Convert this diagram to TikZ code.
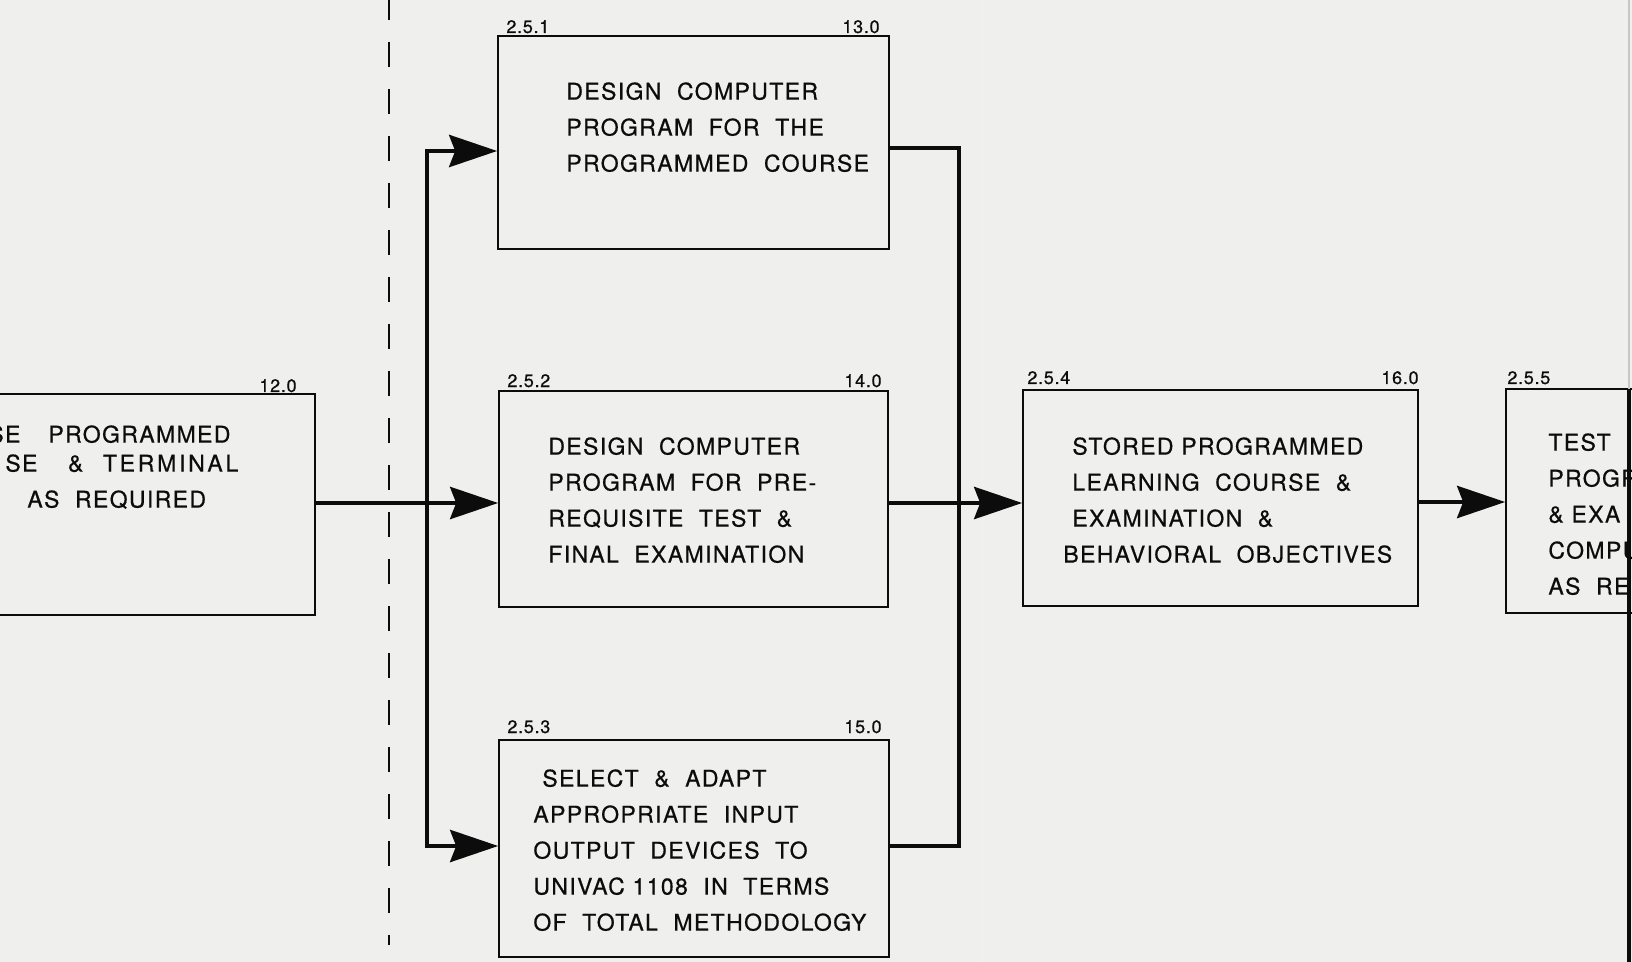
\documentclass[tikz,border=0pt]{standalone}
\usepackage{fontspec}
\setmainfont{TeX Gyre Heros}[LetterSpace=6, FakeBold=0.6]
\newfontfamily\lblfont{TeX Gyre Heros}[LetterSpace=4, FakeBold=0.6]
\newfontfamily\widefont{TeX Gyre Heros}[LetterSpace=12, FakeBold=0.6]
\usetikzlibrary{arrows.meta}
\definecolor{paper}{RGB}{239,239,238}
\definecolor{ink}{RGB}{12,12,12}
\tikzset{
  box/.style={draw=ink, line width=0.8pt, rectangle, inner sep=0pt},
  conn/.style={draw=ink, line width=2.4pt},
  arr/.style={conn, -{Stealth[length=24pt, width=16pt, inset=3pt]}},
  txt/.style={inner sep=0pt, anchor=north west, align=left, text=ink, font=\fontsize{11.5}{18}\selectfont},
  lbl/.style={inner sep=0pt, text=ink, font=\lblfont\fontsize{9}{10}\selectfont},
}
\begin{document}
\begin{tikzpicture}[x=0.5pt, y=-0.5pt]
\useasboundingbox (0,0) rectangle (1632,962);
\clip (0,0) rectangle (1632,962);
\fill[paper] (0,0) rectangle (1632,962);
% paper crease
\draw[black!6, line width=2pt] (983,0) -- (983,962);

% dashed separator
\draw[ink, line width=1pt, dash pattern=on 12.5pt off 11pt] (389,-5) -- (389,945);

% boxes
\node[box, minimum width=207.5pt, minimum height=110.5pt] (b0) at (107.5,504.5) {};
\node[box, minimum width=195.5pt, minimum height=106.5pt] (b1) at (693.5,142.5) {};
\node[box, minimum width=194.5pt, minimum height=108pt] (b2) at (693.5,499) {};
\node[box, minimum width=195pt, minimum height=108.5pt] (b3) at (694,848.5) {};
\node[box, minimum width=197.5pt, minimum height=108pt] (b4) at (1220.5,498) {};
\node[box, minimum width=147pt, minimum height=112pt] (b5) at (1653,501) {};

% box texts
\node[txt] (t0) at (-12,425) {SE\hspace{14pt}PROGRAMMED\\[-3.5pt]\hspace{8.5pt}SE~ \hspace{7.5pt}\&\hspace{2pt}~ {\widefont TERMINAL}\\\hspace{19.5pt}AS~ REQUIRED};
\node[txt] (t1) at (566,82) {DESIGN~ COMPUTER\\PROGRAM~ FOR~ THE\\PROGRAMMED~ COURSE};
\node[txt] (t2) at (548,437) {DESIGN~ COMPUTER\\PROGRAM~ FOR~ PRE-\\REQUISITE~ TEST~ \&\\FINAL~ EXAMINATION};
\node[txt] (t3) at (533,769) {\hspace{4.5pt}SELECT~ \&~ ADAPT\\APPROPRIATE~ INPUT\\OUTPUT~ DEVICES~ TO\\UNIVAC 1108~ IN~ TERMS\\OF~ TOTAL~ METHODOLOGY};
\node[txt] (t4) at (1063,437) {\hspace{4.5pt}STORED PROGRAMMED\\\hspace{4.5pt}LEARNING~ COURSE~ \&\\\hspace{4.5pt}EXAMINATION~ \&\\BEHAVIORAL~ OBJECTIVES};
\node[txt] (t5) at (1548,433) {TEST\\PROGR\\\& EXA\\COMPU\\AS~ RE};

% reference numbers
\node[lbl, anchor=base east] (n0) at (297,392) {12.0};
\node[lbl, anchor=base west] (l1) at (506,33) {2.5.1};
\node[lbl, anchor=base east] (n1) at (880,33) {13.0};
\node[lbl, anchor=base west] (l2) at (507,387) {2.5.2};
\node[lbl, anchor=base east] (n2) at (882,387) {14.0};
\node[lbl, anchor=base west] (l3) at (507,733) {2.5.3};
\node[lbl, anchor=base east] (n3) at (882,733) {15.0};
\node[lbl, anchor=base west] (l4) at (1027,384) {2.5.4};
\node[lbl, anchor=base east] (n4) at (1419,384) {16.0};
\node[lbl, anchor=base west] (l5) at (1507,384) {2.5.5};

% distribution bus
\coordinate (bt) at (427,151);
\coordinate (bm) at (427,503);
\coordinate (bb) at (427,846);
\draw[conn] (b0.east |- bm) -- (bm);
\draw[conn, line cap=rect] (bt) -- (bb);
\draw[arr] (bt) -- (bt -| b1.west);
\draw[arr] (bm) -- (bm -| b2.west);
\draw[arr] (bb) -- (bb -| b3.west);

% collector bus
\coordinate (ct) at (959,148);
\coordinate (cb) at (959,846);
\draw[conn, line join=miter] (ct -| b1.east) -- (ct) -- (cb) -- (cb -| b3.east);
\draw[arr] (bm -| b2.east) -- (bm -| b4.west);

% to 2.5.5
\coordinate (r) at (1418,502);
\draw[arr] (r -| b4.east) -- (r -| b5.west);

% page edge
\draw[black!22, line width=0.8pt] (1629,0) -- (1629,389);
\draw[ink, line width=1.6pt] (1629,389) -- (1629,962);
\end{tikzpicture}
\end{document}
